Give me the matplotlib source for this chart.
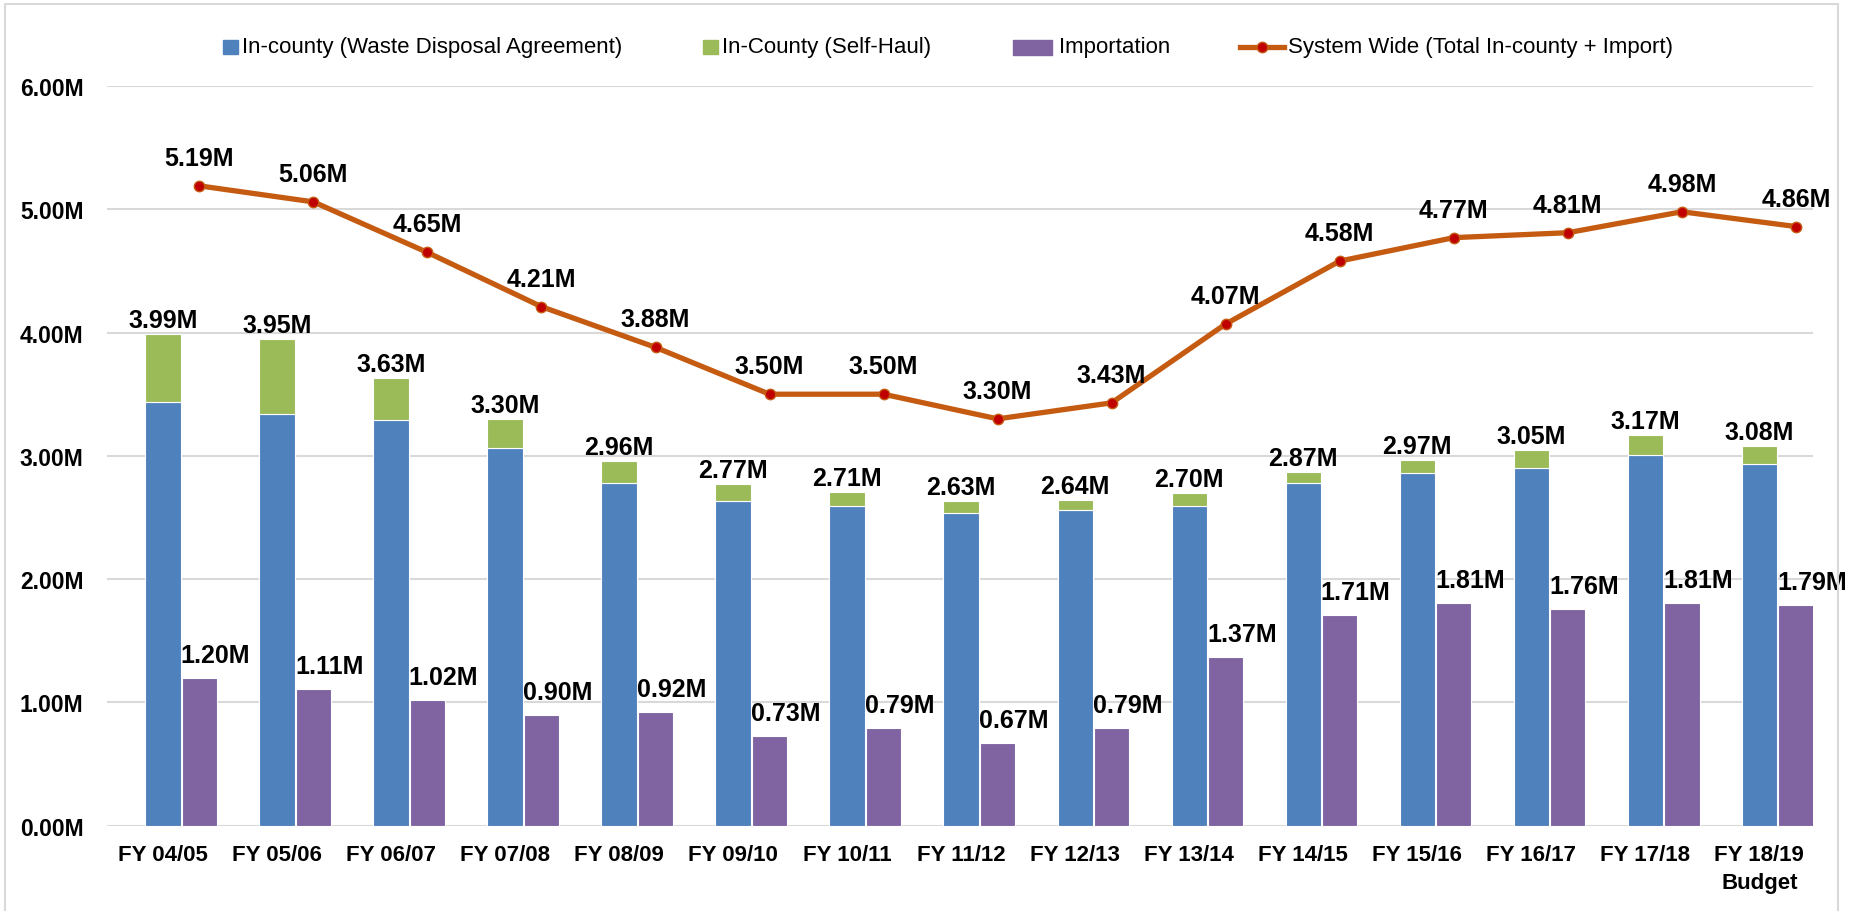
import matplotlib
matplotlib.use("Agg")
import matplotlib.pyplot as plt
from matplotlib.patches import Rectangle
from matplotlib.lines import Line2D
import numpy as np

categories = ['FY 04/05', 'FY 05/06', 'FY 06/07', 'FY 07/08', 'FY 08/09', 'FY 09/10',
              'FY 10/11', 'FY 11/12', 'FY 12/13', 'FY 13/14', 'FY 14/15', 'FY 15/16',
              'FY 16/17', 'FY 17/18', 'FY 18/19\nBudget']
in_county_wda = [3.44, 3.34, 3.29, 3.06, 2.78, 2.63, 2.59, 2.54, 2.56, 2.59, 2.78, 2.86, 2.90, 3.01, 2.93]
in_county_self = [0.55, 0.61, 0.34, 0.24, 0.18, 0.14, 0.12, 0.09, 0.08, 0.11, 0.09, 0.11, 0.15, 0.16, 0.15]
importation = [1.20, 1.11, 1.02, 0.90, 0.92, 0.73, 0.79, 0.67, 0.79, 1.37, 1.71, 1.81, 1.76, 1.81, 1.79]
system_wide = [5.19, 5.06, 4.65, 4.21, 3.88, 3.50, 3.50, 3.30, 3.43, 4.07, 4.58, 4.77, 4.81, 4.98, 4.86]
y_ticks = [0, 1, 2, 3, 4, 5, 6]

BLUE = '#4F81BD'
GREEN = '#9BBB59'
PURPLE = '#8064A2'
LINE = '#C55A11'
MARK = '#C00000'
GRID = '#D9D9D9'

plt.rcParams['font.family'] = ['Liberation Sans', 'DejaVu Sans']

W, H = 1866, 912
fig = plt.figure(figsize=(W / 100, H / 100), dpi=100)
ax = fig.add_axes([107 / W, 1 - 826.7 / H, (1813 - 107) / W, (826.7 - 87) / H])

x = np.arange(len(categories))
bw = 0.31
off = 0.32

ax.bar(x, in_county_wda, bw, color=BLUE, edgecolor='white', linewidth=0.8, zorder=3)
tot = np.array(in_county_wda) + np.array(in_county_self)
ax.bar(x, in_county_self, bw, bottom=in_county_wda, color=GREEN, edgecolor='white', linewidth=0.8, zorder=3)
ax.bar(x + off, importation, bw, color=PURPLE, edgecolor='white', linewidth=0.8, zorder=3)
ax.plot(x + off, system_wide, color=LINE, lw=3.8, marker='o', ms=7.5, mfc=MARK, mec=LINE, mew=1, zorder=5)

lab = dict(ha='center', va='baseline', fontsize=18, fontweight='bold', color='black', zorder=6)
for i in range(len(x)):
    ax.annotate(f'{tot[i]:.2f}M', (x[i], tot[i]), xytext=(0, 7), textcoords='offset pixels', **lab)
    ax.annotate(f'{importation[i]:.2f}M', (x[i] + off, importation[i]), xytext=(16, 16),
                textcoords='offset pixels', **lab)
    ax.annotate(f'{system_wide[i]:.2f}M', (x[i] + off, system_wide[i]), xytext=(0, 21),
                textcoords='offset pixels', **lab)

ax.set_xlim(-0.49, 14.47)
ax.set_ylim(0, 6)
ax.set_yticks(y_ticks)
ax.set_yticklabels([f'{v:.2f}M' for v in y_ticks])
ax.set_xticks(x)
ax.set_xticklabels(categories, linespacing=1.45)
ax.tick_params(axis='y', length=0, pad=17, labelsize=16.5)
ax.tick_params(axis='x', length=0, pad=13, labelsize=16)
for t in ax.get_xticklabels() + ax.get_yticklabels():
    t.set_fontweight('bold')
ax.grid(axis='y', color=GRID, lw=1.5, zorder=0)
ax.set_axisbelow(True)
for s in ax.spines.values():
    s.set_visible(False)

# chart border
fig.patches.append(Rectangle((5 / W, -0.01), (1838 - 5) / W, 1 - 5 / H + 0.01, transform=fig.transFigure,
                             fill=False, edgecolor=GRID, lw=1.5))

# legend (manual placement)
ly = 1 - 48 / H
def sq(x0, x1, color, h=14):
    fig.patches.append(Rectangle((x0 / W, ly - h / 2 / H), (x1 - x0) / W, h / H,
                                 transform=fig.transFigure, color=color))
leg_txt = dict(fontsize=16, va='center', ha='left', color='black')
sq(223, 238, BLUE)
fig.text(242 / W, ly, 'In-county (Waste Disposal Agreement)', **leg_txt)
sq(703, 718, GREEN)
fig.text(722 / W, ly, 'In-County (Self-Haul)', **leg_txt)
sq(1013, 1052, PURPLE, h=15)
fig.text(1059 / W, ly, 'Importation', **leg_txt)
fig.lines.append(Line2D([1240 / W, 1284 / W], [ly, ly], transform=fig.transFigure, color=LINE, lw=3.8))
fig.lines.append(Line2D([1262 / W], [ly], transform=fig.transFigure, marker='o', ms=7.5, mfc=MARK, mec=LINE, mew=1))
fig.text(1288 / W, ly, 'System Wide (Total In-county + Import)', **leg_txt)

fig.savefig('out.png', dpi=100)
